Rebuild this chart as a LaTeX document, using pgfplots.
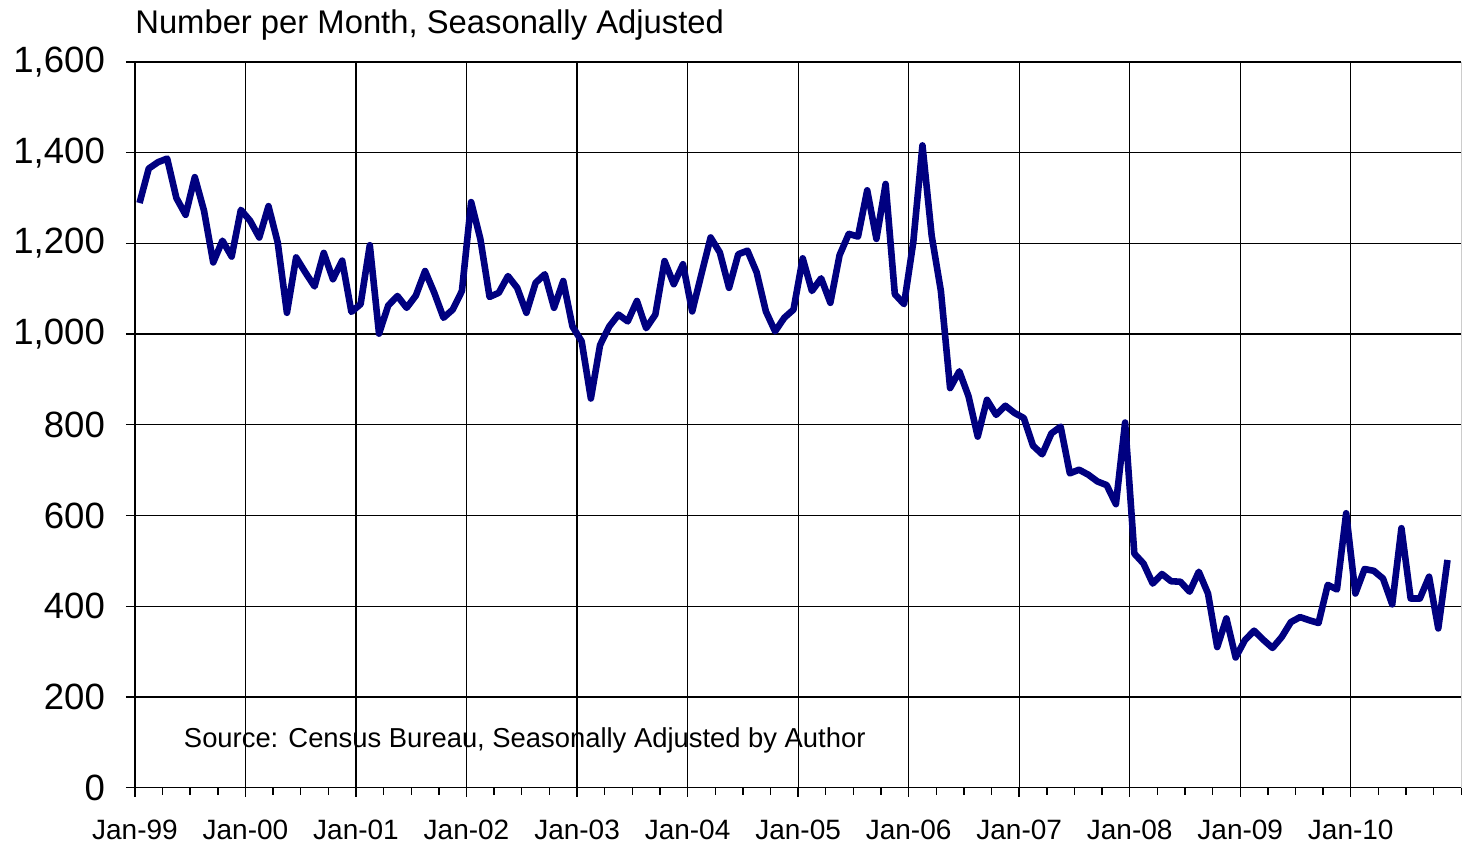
\documentclass[border=0pt]{standalone}
\usepackage{fontspec}
\setmainfont{Liberation Sans}
\usepackage{pgfplots}
\pgfplotsset{compat=1.18}
\definecolor{navyline}{RGB}{0,0,128}

\pgfplotstableread{
x y
0.5 1289
1.5 1365
2.5 1379
3.5 1387
4.5 1300
5.5 1263
6.5 1346
7.5 1272
8.5 1158
9.5 1206
10.5 1171
11.5 1274
12.5 1250
13.5 1213
14.5 1282
15.5 1202
16.5 1047
17.5 1169
18.5 1136
19.5 1105
20.5 1179
21.5 1121
22.5 1162
23.5 1049
24.5 1066
25.5 1196
26.5 1001
27.5 1063
28.5 1084
29.5 1058
30.5 1085
31.5 1139
32.5 1091
33.5 1036
34.5 1054
35.5 1095
36.5 1291
37.5 1210
38.5 1082
39.5 1091
40.5 1128
41.5 1102
42.5 1047
43.5 1113
44.5 1132
45.5 1058
46.5 1117
47.5 1017
48.5 984
49.5 858
50.5 976
51.5 1017
52.5 1043
53.5 1028
54.5 1073
55.5 1013
56.5 1043
57.5 1161
58.5 1110
59.5 1154
60.5 1050
61.5 1132
62.5 1213
63.5 1180
64.5 1102
65.5 1176
66.5 1184
67.5 1136
68.5 1050
69.5 1006
70.5 1036
71.5 1054
72.5 1167
73.5 1095
74.5 1123
75.5 1069
76.5 1174
77.5 1221
78.5 1215
79.5 1317
80.5 1210
81.5 1331
82.5 1088
83.5 1066
84.5 1202
85.5 1416
86.5 1217
87.5 1095
88.5 881
89.5 918
90.5 863
91.5 774
92.5 855
93.5 822
94.5 842
95.5 826
96.5 815
97.5 754
98.5 735
99.5 781
100.5 796
101.5 693
102.5 701
103.5 690
104.5 675
105.5 667
106.5 625
107.5 805
108.5 516
109.5 494
110.5 450
111.5 471
112.5 455
113.5 454
114.5 432
115.5 476
116.5 428
117.5 310
118.5 373
119.5 287
120.5 325
121.5 346
122.5 326
123.5 308
124.5 332
125.5 365
126.5 376
127.5 369
128.5 363
129.5 447
130.5 437
131.5 605
132.5 428
133.5 482
134.5 478
135.5 461
136.5 404
137.5 572
138.5 417
139.5 417
140.5 465
141.5 351
142.5 502
}\starts

\begin{document}
\begin{tikzpicture}
\begin{axis}[
  at={(0,0)}, anchor=south west,
  width=663.5pt, height=363pt, scale only axis,
  xmin=0, xmax=144, ymin=0, ymax=1600,
  axis x line*=bottom, axis y line*=left,
  axis line style={black, line width=0.7pt, -},
  xtick={0,12,...,132},
  xticklabels={Jan-99,Jan-00,Jan-01,Jan-02,Jan-03,Jan-04,Jan-05,Jan-06,Jan-07,Jan-08,Jan-09,Jan-10},
  minor xtick={3,6,9,15,18,21,27,30,33,39,42,45,51,54,57,63,66,69,75,78,81,87,90,93,99,102,105,111,114,117,123,126,129,135,138,141,144},
  ytick={0,200,...,1600},
  tick align=outside,
  major tick length=4.5pt, minor tick length=3.5pt,
  tick style={black, line width=0.7pt},
  grid=major,
  major grid style={black, line width=0.6pt},
  /pgf/number format/1000 sep={,},
  /pgf/number format/assume math mode=true,
  yticklabel style={font=\fontsize{18.3}{18}\selectfont, anchor=east, xshift=-7pt},
  xticklabel style={font=\fontsize{14}{14}\selectfont, yshift=-8pt},
  clip=false,
]
\addplot[navyline, line width=3.3pt, line join=round, no markers] table[x=x, y=y] {\starts};
\draw[gray!40, line width=0.7pt] (axis cs:144,0) -- (axis cs:144,1600);
\end{axis}
\node[anchor=west, inner sep=0pt, font=\fontsize{16.4}{16}\selectfont] at (0pt,381.5pt) {Number per Month, Seasonally Adjusted};
\node[inner sep=0pt, font=\fontsize{13.7}{14}\selectfont] at (195pt,23.5pt) {Source: Census Bureau, Seasonally Adjusted by Author};
\path[use as bounding box] (-67.5pt,-28.5pt) rectangle (663.5pt,394pt);
\end{tikzpicture}
\end{document}
